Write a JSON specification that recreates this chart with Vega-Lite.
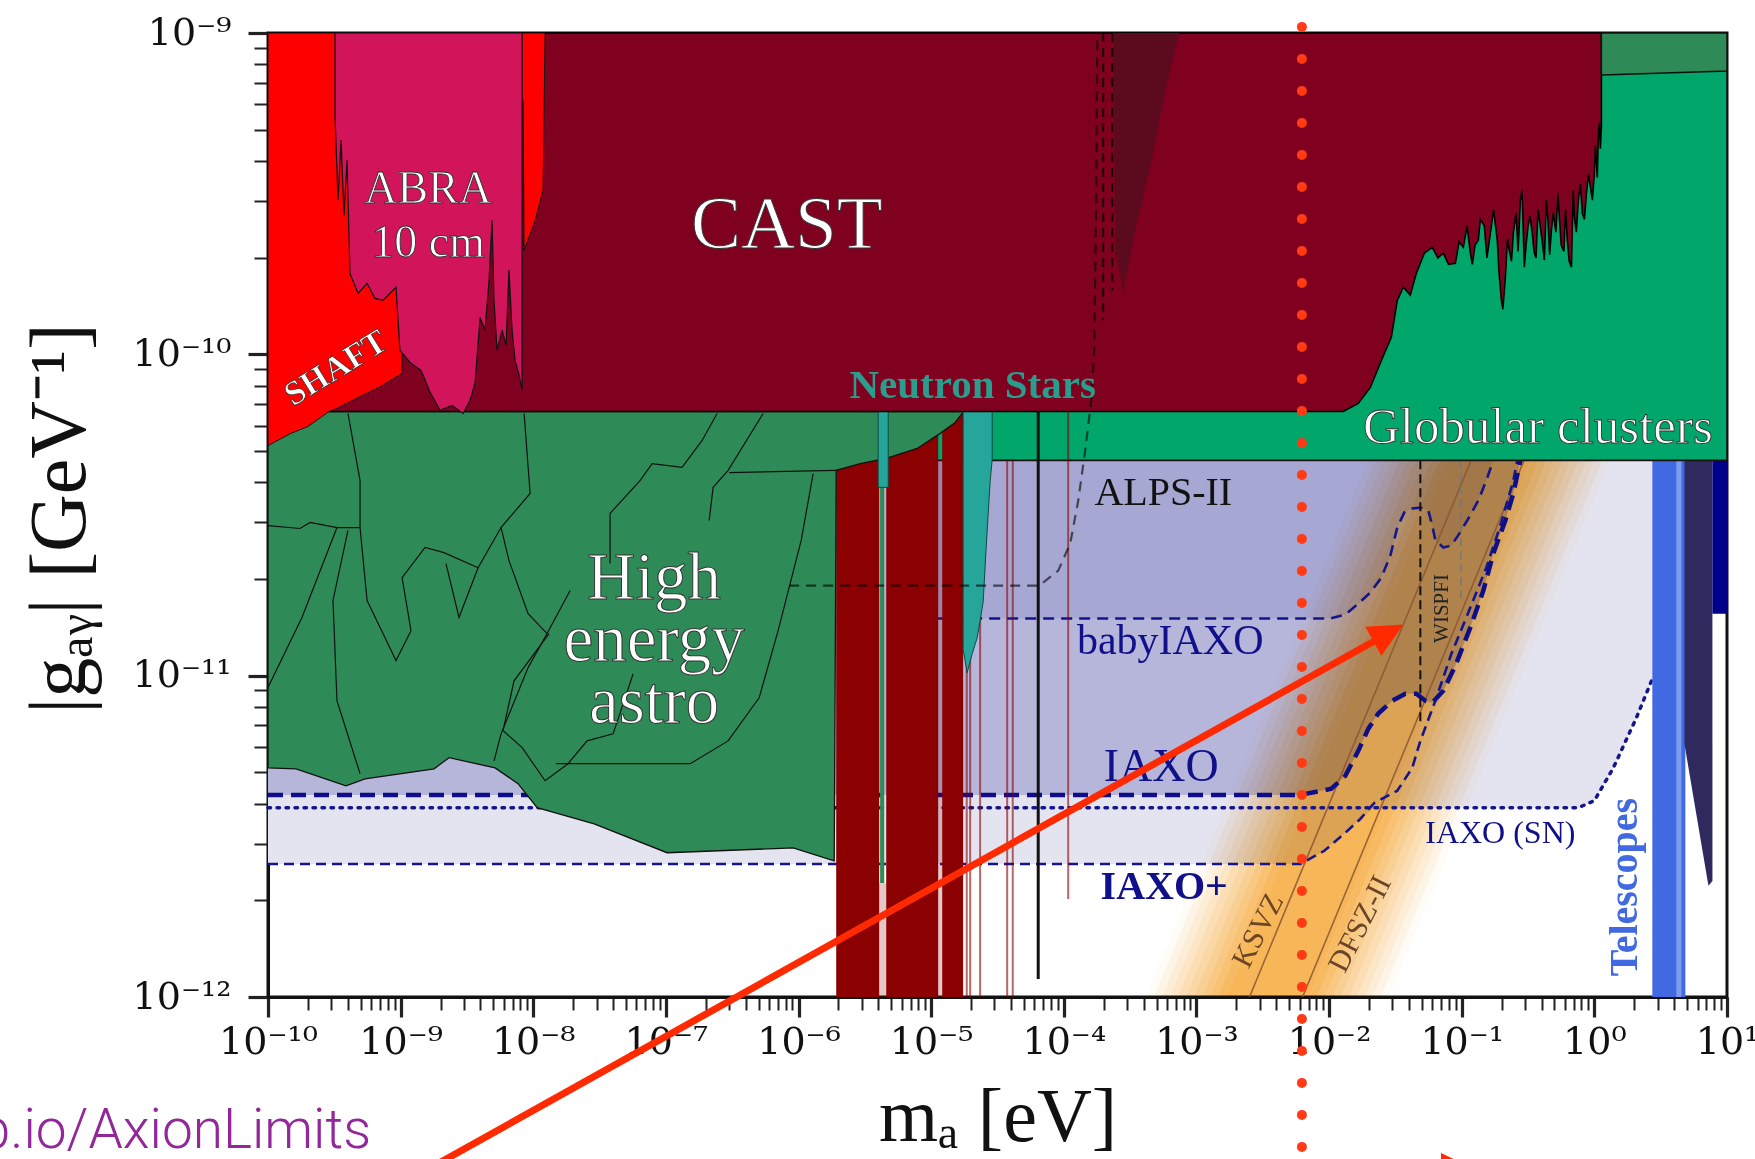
{
  "$schema": "https://vega.github.io/schema/vega-lite/v6.json",
  "width": 1459,
  "height": 964,
  "autosize": {"type": "none"},
  "padding": {"left": 268, "top": 33, "right": 28, "bottom": 162},
  "background": "white",
  "config": {
    "view": {"stroke": "#111", "strokeWidth": 3},
    "axis": {"labelFont": "DejaVu Serif", "titleFont": "Liberation Serif"},
    "text": {"font": "Liberation Serif"}
  },
  "resolve": {"scale": {"color": "independent"}},
  "datasets": {
    "iaxo_plus_region": [
      {"m": -10, "g": -11.586, "g2": -9}, {"m": -2.217, "g": -11.586, "g2": -9},
      {"m": -2.036, "g": -11.545, "g2": -9}, {"m": -1.878, "g": -11.489, "g2": -9},
      {"m": -1.765, "g": -11.446, "g2": -9}, {"m": -1.659, "g": -11.411, "g2": -9},
      {"m": -0.121, "g": -11.411, "g2": -9}, {"m": 0.0, "g": -11.389, "g2": -9},
      {"m": 0.143, "g": -11.287, "g2": -9}, {"m": 0.317, "g": -11.131, "g2": -9},
      {"m": 0.437, "g": -11.01, "g2": -9}
    ],
    "iaxo_sn": [
      {"m": -10, "g": -11.411}, {"m": -0.121, "g": -11.411}, {"m": 0.0, "g": -11.389},
      {"m": 0.143, "g": -11.287}, {"m": 0.317, "g": -11.131}, {"m": 0.437, "g": -11.01}
    ],
    "iaxo_plus": [
      {"m": -10, "g": -11.586}, {"m": -2.217, "g": -11.586}, {"m": -2.036, "g": -11.545},
      {"m": -1.878, "g": -11.489}, {"m": -1.765, "g": -11.446}, {"m": -1.659, "g": -11.396},
      {"m": -1.486, "g": -11.358}, {"m": -1.373, "g": -11.287}, {"m": -1.312, "g": -11.203},
      {"m": -1.199, "g": -11.078}, {"m": -1.078, "g": -10.932}, {"m": -0.935, "g": -10.788},
      {"m": -0.815, "g": -10.664}, {"m": -0.709, "g": -10.533}, {"m": -0.611, "g": -10.393},
      {"m": -0.581, "g": -10.33}
    ],
    "iaxo": [
      {"m": -10, "g": -11.371, "g2": -9}, {"m": -2.217, "g": -11.371, "g2": -9},
      {"m": -1.983, "g": -11.352, "g2": -9}, {"m": -1.878, "g": -11.312, "g2": -9},
      {"m": -1.78, "g": -11.234, "g2": -9}, {"m": -1.704, "g": -11.165, "g2": -9},
      {"m": -1.629, "g": -11.118, "g2": -9}, {"m": -1.523, "g": -11.078, "g2": -9},
      {"m": -1.425, "g": -11.056, "g2": -9}, {"m": -1.342, "g": -11.056, "g2": -9},
      {"m": -1.275, "g": -11.078, "g2": -9}, {"m": -1.222, "g": -11.084, "g2": -9},
      {"m": -1.139, "g": -11.047, "g2": -9}, {"m": -1.048, "g": -10.969, "g2": -9},
      {"m": -0.935, "g": -10.85, "g2": -9}, {"m": -0.837, "g": -10.735, "g2": -9},
      {"m": -0.762, "g": -10.62, "g2": -9}, {"m": -0.671, "g": -10.517, "g2": -9},
      {"m": -0.611, "g": -10.433, "g2": -9}, {"m": -0.558, "g": -10.33, "g2": -9}
    ],
    "babyiaxo": [
      {"m": -4.97, "g": -10.822, "g2": -9}, {"m": -1.991, "g": -10.822, "g2": -9},
      {"m": -1.878, "g": -10.81, "g2": -9}, {"m": -1.78, "g": -10.776, "g2": -9},
      {"m": -1.689, "g": -10.741, "g2": -9}, {"m": -1.606, "g": -10.695, "g2": -9},
      {"m": -1.538, "g": -10.626, "g2": -9}, {"m": -1.486, "g": -10.539, "g2": -9},
      {"m": -1.433, "g": -10.492, "g2": -9}, {"m": -1.373, "g": -10.48, "g2": -9},
      {"m": -1.312, "g": -10.477, "g2": -9}, {"m": -1.252, "g": -10.486, "g2": -9},
      {"m": -1.222, "g": -10.533, "g2": -9}, {"m": -1.199, "g": -10.579, "g2": -9},
      {"m": -1.139, "g": -10.601, "g2": -9}, {"m": -1.078, "g": -10.595, "g2": -9},
      {"m": -1.018, "g": -10.558, "g2": -9}, {"m": -0.95, "g": -10.511, "g2": -9},
      {"m": -0.875, "g": -10.455, "g2": -9}, {"m": -0.815, "g": -10.393, "g2": -9},
      {"m": -0.762, "g": -10.33, "g2": -9}
    ],
    "qcd_band": [
      {"s": "s01", "m": -3.38, "g": -12, "g2": -12}, {"s": "s01", "m": -3.32, "g": -12, "g2": -11.94}, {"s": "s01", "m": -1.71, "g": -10.39, "g2": -10.33}, {"s": "s01", "m": -1.65, "g": -10.33, "g2": -10.33},
      {"s": "s02", "m": -3.32, "g": -12, "g2": -12}, {"s": "s02", "m": -3.26, "g": -12, "g2": -11.94}, {"s": "s02", "m": -1.65, "g": -10.39, "g2": -10.33}, {"s": "s02", "m": -1.59, "g": -10.33, "g2": -10.33},
      {"s": "s03", "m": -3.26, "g": -12, "g2": -12}, {"s": "s03", "m": -3.2, "g": -12, "g2": -11.94}, {"s": "s03", "m": -1.59, "g": -10.39, "g2": -10.33}, {"s": "s03", "m": -1.53, "g": -10.33, "g2": -10.33},
      {"s": "s04", "m": -3.2, "g": -12, "g2": -12}, {"s": "s04", "m": -3.14, "g": -12, "g2": -11.94}, {"s": "s04", "m": -1.53, "g": -10.39, "g2": -10.33}, {"s": "s04", "m": -1.47, "g": -10.33, "g2": -10.33},
      {"s": "s05", "m": -3.14, "g": -12, "g2": -12}, {"s": "s05", "m": -3.08, "g": -12, "g2": -11.94}, {"s": "s05", "m": -1.47, "g": -10.39, "g2": -10.33}, {"s": "s05", "m": -1.41, "g": -10.33, "g2": -10.33},
      {"s": "s06", "m": -3.08, "g": -12, "g2": -12}, {"s": "s06", "m": -3.02, "g": -12, "g2": -11.94}, {"s": "s06", "m": -1.41, "g": -10.39, "g2": -10.33}, {"s": "s06", "m": -1.35, "g": -10.33, "g2": -10.33},
      {"s": "s07", "m": -3.02, "g": -12, "g2": -12}, {"s": "s07", "m": -2.96, "g": -12, "g2": -11.94}, {"s": "s07", "m": -1.35, "g": -10.39, "g2": -10.33}, {"s": "s07", "m": -1.29, "g": -10.33, "g2": -10.33},
      {"s": "s08", "m": -2.96, "g": -12, "g2": -12}, {"s": "s08", "m": -2.9, "g": -12, "g2": -11.94}, {"s": "s08", "m": -1.29, "g": -10.39, "g2": -10.33}, {"s": "s08", "m": -1.23, "g": -10.33, "g2": -10.33},
      {"s": "s09", "m": -2.9, "g": -12, "g2": -12}, {"s": "s09", "m": -2.84, "g": -12, "g2": -11.94}, {"s": "s09", "m": -1.23, "g": -10.39, "g2": -10.33}, {"s": "s09", "m": -1.17, "g": -10.33, "g2": -10.33},
      {"s": "s10", "m": -2.84, "g": -12, "g2": -12}, {"s": "s10", "m": -2.78, "g": -12, "g2": -11.94}, {"s": "s10", "m": -1.17, "g": -10.39, "g2": -10.33}, {"s": "s10", "m": -1.11, "g": -10.33, "g2": -10.33},
      {"s": "s11", "m": -2.78, "g": -12, "g2": -12}, {"s": "s11", "m": -2.15, "g": -12, "g2": -11.37}, {"s": "s11", "m": -1.11, "g": -10.96, "g2": -10.33}, {"s": "s11", "m": -0.48, "g": -10.33, "g2": -10.33},
      {"s": "s12", "m": -2.15, "g": -12, "g2": -12}, {"s": "s12", "m": -2.09, "g": -12, "g2": -11.94}, {"s": "s12", "m": -0.48, "g": -10.39, "g2": -10.33}, {"s": "s12", "m": -0.42, "g": -10.33, "g2": -10.33},
      {"s": "s13", "m": -2.09, "g": -12, "g2": -12}, {"s": "s13", "m": -2.03, "g": -12, "g2": -11.94}, {"s": "s13", "m": -0.42, "g": -10.39, "g2": -10.33}, {"s": "s13", "m": -0.36, "g": -10.33, "g2": -10.33},
      {"s": "s14", "m": -2.03, "g": -12, "g2": -12}, {"s": "s14", "m": -1.97, "g": -12, "g2": -11.94}, {"s": "s14", "m": -0.36, "g": -10.39, "g2": -10.33}, {"s": "s14", "m": -0.3, "g": -10.33, "g2": -10.33},
      {"s": "s15", "m": -1.97, "g": -12, "g2": -12}, {"s": "s15", "m": -1.91, "g": -12, "g2": -11.94}, {"s": "s15", "m": -0.3, "g": -10.39, "g2": -10.33}, {"s": "s15", "m": -0.24, "g": -10.33, "g2": -10.33},
      {"s": "s16", "m": -1.91, "g": -12, "g2": -12}, {"s": "s16", "m": -1.85, "g": -12, "g2": -11.94}, {"s": "s16", "m": -0.24, "g": -10.39, "g2": -10.33}, {"s": "s16", "m": -0.18, "g": -10.33, "g2": -10.33},
      {"s": "s17", "m": -1.85, "g": -12, "g2": -12}, {"s": "s17", "m": -1.79, "g": -12, "g2": -11.94}, {"s": "s17", "m": -0.18, "g": -10.39, "g2": -10.33}, {"s": "s17", "m": -0.12, "g": -10.33, "g2": -10.33},
      {"s": "s18", "m": -1.79, "g": -12, "g2": -12}, {"s": "s18", "m": -1.73, "g": -12, "g2": -11.94}, {"s": "s18", "m": -0.12, "g": -10.39, "g2": -10.33}, {"s": "s18", "m": -0.06, "g": -10.33, "g2": -10.33},
      {"s": "s19", "m": -1.73, "g": -12, "g2": -12}, {"s": "s19", "m": -1.67, "g": -12, "g2": -11.94}, {"s": "s19", "m": -0.06, "g": -10.39, "g2": -10.33}, {"s": "s19", "m": 0.0, "g": -10.33, "g2": -10.33},
      {"s": "s20", "m": -1.67, "g": -12, "g2": -12}, {"s": "s20", "m": -1.61, "g": -12, "g2": -11.94}, {"s": "s20", "m": 0.0, "g": -10.39, "g2": -10.33}, {"s": "s20", "m": 0.06, "g": -10.33, "g2": -10.33},
      {"s": "s21", "m": -1.61, "g": -12, "g2": -12}, {"s": "s21", "m": -1.55, "g": -12, "g2": -11.94}, {"s": "s21", "m": 0.06, "g": -10.39, "g2": -10.33}, {"s": "s21", "m": 0.12, "g": -10.33, "g2": -10.33}
    ],
    "models": [
      {"model": "KSVZ", "m": -3.8, "g": -13.2}, {"model": "KSVZ", "m": 0.6, "g": -8.8},
      {"model": "DFSZ-II", "m": -3.8, "g": -13.6}, {"model": "DFSZ-II", "m": 0.6, "g": -9.2}
    ],
    "haloscopes": [
      {"id": "h1", "m": -5.716, "g": -12, "g2": -10.178}, {"id": "h1", "m": -5.392, "g": -12, "g2": -10.178},
      {"id": "h2", "m": -5.339, "g": -12, "g2": -10.178}, {"id": "h2", "m": -4.947, "g": -12, "g2": -10.178},
      {"id": "h3", "m": -4.917, "g": -12, "g2": -10.178}, {"id": "h3", "m": -4.759, "g": -12, "g2": -10.178}
    ],
    "haloscope_gaps": [
      {"id": "p1", "m": -5.392, "g": -12, "g2": -11.645}, {"id": "p1", "m": -5.339, "g": -12, "g2": -11.645},
      {"id": "p2", "m": -4.947, "g": -12, "g2": -10.33}, {"id": "p2", "m": -4.917, "g": -12, "g2": -10.33}
    ],
    "haloscope_lines": [
      {"m": -4.732, "g": -10.33, "g2": -12}, {"m": -4.706, "g": -10.33, "g2": -12},
      {"m": -4.631, "g": -10.33, "g2": -12}, {"m": -4.427, "g": -10.33, "g2": -12},
      {"m": -4.385, "g": -10.33, "g2": -12}, {"m": -3.967, "g": -10.178, "g2": -11.695}
    ],
    "he_astro": [
      {"m": -10, "g": -11.287, "g2": -10.178}, {"m": -9.789, "g": -11.29, "g2": -10.178},
      {"m": -9.412, "g": -11.343, "g2": -10.178}, {"m": -9.268, "g": -11.321, "g2": -10.178},
      {"m": -8.748, "g": -11.29, "g2": -10.178}, {"m": -8.635, "g": -11.255, "g2": -10.178},
      {"m": -8.288, "g": -11.287, "g2": -10.178}, {"m": -8.115, "g": -11.336, "g2": -10.178},
      {"m": -7.971, "g": -11.411, "g2": -10.178}, {"m": -7.541, "g": -11.461, "g2": -10.178},
      {"m": -6.991, "g": -11.551, "g2": -10.178}, {"m": -6.041, "g": -11.536, "g2": -10.178},
      {"m": -5.731, "g": -11.576, "g2": -10.178}, {"m": -5.716, "g": -10.361, "g2": -10.178},
      {"m": -5.535, "g": -10.34, "g2": -10.178}, {"m": -5.339, "g": -10.324, "g2": -10.178},
      {"m": -5.106, "g": -10.293, "g2": -10.178}, {"m": -4.932, "g": -10.246, "g2": -10.178},
      {"m": -4.819, "g": -10.212, "g2": -10.178}, {"m": -4.759, "g": -10.18, "g2": -10.178}
    ],
    "he_lines": [
      {"seg": "a", "k": 0, "m": -9.397, "g": -10.184}, {"seg": "a", "k": 1, "m": -9.306, "g": -10.393},
      {"seg": "a", "k": 2, "m": -9.306, "g": -10.539}, {"seg": "a", "k": 3, "m": -9.253, "g": -10.766},
      {"seg": "a", "k": 4, "m": -9.133, "g": -10.869}, {"seg": "a", "k": 5, "m": -9.035, "g": -10.953},
      {"seg": "a", "k": 6, "m": -8.922, "g": -10.86}, {"seg": "a", "k": 7, "m": -8.989, "g": -10.695},
      {"seg": "a", "k": 8, "m": -8.816, "g": -10.601}, {"seg": "a", "k": 9, "m": -8.673, "g": -10.617},
      {"seg": "a", "k": 10, "m": -8.416, "g": -10.664}, {"seg": "a", "k": 11, "m": -8.243, "g": -10.539},
      {"seg": "a", "k": 12, "m": -8.024, "g": -10.433}, {"seg": "a", "k": 13, "m": -8.069, "g": -10.184},
      {"seg": "b", "k": 0, "m": -8.658, "g": -10.651}, {"seg": "b", "k": 1, "m": -8.56, "g": -10.819},
      {"seg": "b", "k": 2, "m": -8.416, "g": -10.664},
      {"seg": "c", "k": 0, "m": -10, "g": -10.533}, {"seg": "c", "k": 1, "m": -9.759, "g": -10.542},
      {"seg": "c", "k": 2, "m": -9.683, "g": -10.523}, {"seg": "c", "k": 3, "m": -9.48, "g": -10.539},
      {"seg": "c", "k": 4, "m": -9.306, "g": -10.539},
      {"seg": "d", "k": 0, "m": -9.48, "g": -10.539}, {"seg": "d", "k": 1, "m": -9.744, "g": -10.819},
      {"seg": "d", "k": 2, "m": -10, "g": -11.037},
      {"seg": "e", "k": 0, "m": -9.397, "g": -10.548}, {"seg": "e", "k": 1, "m": -9.51, "g": -10.766},
      {"seg": "e", "k": 2, "m": -9.48, "g": -11.078}, {"seg": "e", "k": 3, "m": -9.306, "g": -11.305},
      {"seg": "f", "k": 0, "m": -8.243, "g": -10.539}, {"seg": "f", "k": 1, "m": -8.183, "g": -10.642},
      {"seg": "f", "k": 2, "m": -8.039, "g": -10.807}, {"seg": "f", "k": 3, "m": -7.896, "g": -10.869},
      {"seg": "f", "k": 4, "m": -7.722, "g": -10.735},
      {"seg": "g", "k": 0, "m": -7.896, "g": -10.869}, {"seg": "g", "k": 1, "m": -8.039, "g": -10.975},
      {"seg": "g", "k": 2, "m": -8.243, "g": -11.181}, {"seg": "g", "k": 3, "m": -8.296, "g": -11.265},
      {"seg": "h", "k": 0, "m": -6.614, "g": -10.184}, {"seg": "h", "k": 1, "m": -6.727, "g": -10.268},
      {"seg": "h", "k": 2, "m": -6.878, "g": -10.352}, {"seg": "h", "k": 3, "m": -7.104, "g": -10.34},
      {"seg": "h", "k": 4, "m": -7.195, "g": -10.393}, {"seg": "h", "k": 5, "m": -7.421, "g": -10.495},
      {"seg": "h", "k": 6, "m": -7.421, "g": -10.651},
      {"seg": "i", "k": 0, "m": -5.89, "g": -10.371}, {"seg": "i", "k": 1, "m": -5.98, "g": -10.579},
      {"seg": "i", "k": 2, "m": -6.154, "g": -10.86}, {"seg": "i", "k": 3, "m": -6.297, "g": -11.069},
      {"seg": "i", "k": 4, "m": -6.531, "g": -11.203}, {"seg": "i", "k": 5, "m": -6.817, "g": -11.274},
      {"seg": "i", "k": 6, "m": -7.828, "g": -11.274},
      {"seg": "j", "k": 0, "m": -6.267, "g": -10.184}, {"seg": "j", "k": 1, "m": -6.531, "g": -10.361},
      {"seg": "j", "k": 2, "m": -6.644, "g": -10.414}, {"seg": "j", "k": 3, "m": -6.674, "g": -10.517},
      {"seg": "k", "k": 0, "m": -6.523, "g": -10.368}, {"seg": "k", "k": 1, "m": -5.716, "g": -10.361},
      {"seg": "l", "k": 0, "m": -7.881, "g": -10.869}, {"seg": "l", "k": 1, "m": -8.145, "g": -11.016},
      {"seg": "l", "k": 2, "m": -8.228, "g": -11.171}, {"seg": "l", "k": 3, "m": -8.084, "g": -11.224},
      {"seg": "l", "k": 4, "m": -7.911, "g": -11.327}, {"seg": "l", "k": 5, "m": -7.738, "g": -11.274},
      {"seg": "l", "k": 6, "m": -7.594, "g": -11.203}, {"seg": "l", "k": 7, "m": -7.398, "g": -11.181},
      {"seg": "l", "k": 8, "m": -7.247, "g": -10.994}
    ],
    "neutron_stars": [
      {"id": "a", "m": -4.759, "g": -10.919, "g2": -10.178}, {"id": "a", "m": -4.729, "g": -10.991, "g2": -10.178},
      {"id": "a", "m": -4.691, "g": -10.932, "g2": -10.178}, {"id": "a", "m": -4.653, "g": -10.882, "g2": -10.178},
      {"id": "a", "m": -4.608, "g": -10.77, "g2": -10.178}, {"id": "a", "m": -4.585, "g": -10.598, "g2": -10.178},
      {"id": "a", "m": -4.555, "g": -10.393, "g2": -10.178}, {"id": "a", "m": -4.54, "g": -10.327, "g2": -10.178},
      {"id": "b", "m": -5.4, "g": -10.414, "g2": -10.178}, {"id": "b", "m": -5.324, "g": -10.414, "g2": -10.178}
    ],
    "cast": [
      {"m": -10, "g": -10.178, "g2": -9}, {"m": -1.893, "g": -10.178, "g2": -9},
      {"m": -1.78, "g": -10.153, "g2": -9}, {"m": -1.689, "g": -10.103, "g2": -9},
      {"m": -1.606, "g": -10.019, "g2": -9}, {"m": -1.531, "g": -9.947, "g2": -9},
      {"m": -1.486, "g": -9.832, "g2": -9}, {"m": -1.44, "g": -9.791, "g2": -9},
      {"m": -1.388, "g": -9.816, "g2": -9}, {"m": -1.342, "g": -9.748, "g2": -9},
      {"m": -1.282, "g": -9.685, "g2": -9}, {"m": -1.222, "g": -9.667, "g2": -9},
      {"m": -1.18, "g": -9.7, "g2": -9}, {"m": -1.139, "g": -9.685, "g2": -9},
      {"m": -1.1, "g": -9.72, "g2": -9}, {"m": -1.048, "g": -9.717, "g2": -9},
      {"m": -1.02, "g": -9.65, "g2": -9}, {"m": -0.988, "g": -9.667, "g2": -9},
      {"m": -0.96, "g": -9.6, "g2": -9}, {"m": -0.935, "g": -9.685, "g2": -9},
      {"m": -0.92, "g": -9.72, "g2": -9}, {"m": -0.9, "g": -9.66, "g2": -9},
      {"m": -0.875, "g": -9.645, "g2": -9}, {"m": -0.86, "g": -9.58, "g2": -9},
      {"m": -0.83, "g": -9.6, "g2": -9}, {"m": -0.81, "g": -9.7, "g2": -9},
      {"m": -0.784, "g": -9.623, "g2": -9}, {"m": -0.76, "g": -9.55, "g2": -9},
      {"m": -0.732, "g": -9.645, "g2": -9}, {"m": -0.72, "g": -9.74, "g2": -9},
      {"m": -0.701, "g": -9.832, "g2": -9}, {"m": -0.69, "g": -9.86, "g2": -9},
      {"m": -0.671, "g": -9.76, "g2": -9}, {"m": -0.655, "g": -9.64, "g2": -9},
      {"m": -0.64, "g": -9.68, "g2": -9}, {"m": -0.625, "g": -9.71, "g2": -9},
      {"m": -0.611, "g": -9.623, "g2": -9}, {"m": -0.59, "g": -9.56, "g2": -9},
      {"m": -0.575, "g": -9.68, "g2": -9}, {"m": -0.558, "g": -9.52, "g2": -9},
      {"m": -0.545, "g": -9.49, "g2": -9}, {"m": -0.528, "g": -9.729, "g2": -9},
      {"m": -0.515, "g": -9.66, "g2": -9}, {"m": -0.5, "g": -9.6, "g2": -9},
      {"m": -0.485, "g": -9.57, "g2": -9}, {"m": -0.468, "g": -9.623, "g2": -9},
      {"m": -0.455, "g": -9.68, "g2": -9}, {"m": -0.44, "g": -9.7, "g2": -9},
      {"m": -0.425, "g": -9.55, "g2": -9}, {"m": -0.407, "g": -9.604, "g2": -9},
      {"m": -0.39, "g": -9.66, "g2": -9}, {"m": -0.377, "g": -9.707, "g2": -9},
      {"m": -0.362, "g": -9.52, "g2": -9}, {"m": -0.35, "g": -9.58, "g2": -9},
      {"m": -0.337, "g": -9.69, "g2": -9}, {"m": -0.324, "g": -9.614, "g2": -9},
      {"m": -0.31, "g": -9.56, "g2": -9}, {"m": -0.29, "g": -9.62, "g2": -9},
      {"m": -0.275, "g": -9.5, "g2": -9}, {"m": -0.264, "g": -9.573, "g2": -9},
      {"m": -0.25, "g": -9.66, "g2": -9}, {"m": -0.23, "g": -9.68, "g2": -9},
      {"m": -0.217, "g": -9.55, "g2": -9}, {"m": -0.204, "g": -9.645, "g2": -9},
      {"m": -0.19, "g": -9.71, "g2": -9}, {"m": -0.173, "g": -9.729, "g2": -9},
      {"m": -0.16, "g": -9.49, "g2": -9}, {"m": -0.151, "g": -9.573, "g2": -9},
      {"m": -0.136, "g": -9.62, "g2": -9}, {"m": -0.121, "g": -9.52, "g2": -9},
      {"m": -0.105, "g": -9.47, "g2": -9}, {"m": -0.091, "g": -9.561, "g2": -9},
      {"m": -0.075, "g": -9.58, "g2": -9}, {"m": -0.06, "g": -9.5, "g2": -9},
      {"m": -0.045, "g": -9.44, "g2": -9}, {"m": -0.03, "g": -9.48, "g2": -9},
      {"m": -0.015, "g": -9.52, "g2": -9}, {"m": 0.0, "g": -9.436, "g2": -9},
      {"m": 0.008, "g": -9.35, "g2": -9}, {"m": 0.015, "g": -9.4, "g2": -9},
      {"m": 0.022, "g": -9.45, "g2": -9}, {"m": 0.03, "g": -9.312, "g2": -9},
      {"m": 0.038, "g": -9.28, "g2": -9}, {"m": 0.045, "g": -9.36, "g2": -9},
      {"m": 0.053, "g": -9.293, "g2": -9}
    ],
    "cast_shadow": [
      {"m": -3.627, "g": -9.0, "g2": -9}, {"m": -3.612, "g": -9.676, "g2": -9},
      {"m": -3.552, "g": -9.81, "g2": -9}, {"m": -3.462, "g": -9.614, "g2": -9},
      {"m": -3.348, "g": -9.417, "g2": -9}, {"m": -3.235, "g": -9.178, "g2": -9},
      {"m": -3.13, "g": -9.0, "g2": -9}
    ],
    "shaft": [
      {"m": -10, "g": -10.284, "g2": -9}, {"m": -9.9, "g": -10.262, "g2": -9},
      {"m": -9.827, "g": -10.246, "g2": -9}, {"m": -9.7, "g": -10.225, "g2": -9},
      {"m": -9.54, "g": -10.178, "g2": -9}, {"m": -9.48, "g": -10.168, "g2": -9},
      {"m": -9.3, "g": -10.13, "g2": -9}, {"m": -9.15, "g": -10.1, "g2": -9},
      {"m": -8.989, "g": -10.059, "g2": -9}, {"m": -8.982, "g": -9.209, "g2": -9},
      {"m": -8.077, "g": -9.209, "g2": -9}, {"m": -8.069, "g": -9.676, "g2": -9},
      {"m": -7.986, "g": -9.583, "g2": -9}, {"m": -7.926, "g": -9.489, "g2": -9},
      {"m": -7.911, "g": -9.0, "g2": -9}
    ],
    "abra": [
      {"m": -9.495, "g": -9.255, "g2": -9}, {"m": -9.472, "g": -9.52, "g2": -9},
      {"m": -9.449, "g": -9.333, "g2": -9}, {"m": -9.427, "g": -9.567, "g2": -9},
      {"m": -9.404, "g": -9.396, "g2": -9}, {"m": -9.382, "g": -9.748, "g2": -9},
      {"m": -9.321, "g": -9.81, "g2": -9}, {"m": -9.253, "g": -9.779, "g2": -9},
      {"m": -9.193, "g": -9.826, "g2": -9}, {"m": -9.133, "g": -9.832, "g2": -9},
      {"m": -9.08, "g": -9.81, "g2": -9}, {"m": -9.035, "g": -9.791, "g2": -9},
      {"m": -9.005, "g": -9.988, "g2": -9}, {"m": -8.929, "g": -10.025, "g2": -9},
      {"m": -8.846, "g": -10.05, "g2": -9}, {"m": -8.778, "g": -10.118, "g2": -9},
      {"m": -8.703, "g": -10.174, "g2": -9}, {"m": -8.612, "g": -10.159, "g2": -9},
      {"m": -8.529, "g": -10.184, "g2": -9}, {"m": -8.477, "g": -10.143, "g2": -9},
      {"m": -8.439, "g": -10.09, "g2": -9}, {"m": -8.401, "g": -9.885, "g2": -9},
      {"m": -8.364, "g": -9.925, "g2": -9}, {"m": -8.333, "g": -9.769, "g2": -9},
      {"m": -8.311, "g": -9.583, "g2": -9}, {"m": -8.296, "g": -9.832, "g2": -9},
      {"m": -8.273, "g": -9.988, "g2": -9}, {"m": -8.235, "g": -9.925, "g2": -9},
      {"m": -8.205, "g": -9.972, "g2": -9}, {"m": -8.183, "g": -9.738, "g2": -9},
      {"m": -8.16, "g": -9.925, "g2": -9}, {"m": -8.137, "g": -10.019, "g2": -9},
      {"m": -8.107, "g": -10.065, "g2": -9}, {"m": -8.084, "g": -10.112, "g2": -9}
    ],
    "alps": [
      {"m": -6.071, "g": -10.72}, {"m": -4.186, "g": -10.72}, {"m": -4.042, "g": -10.673},
      {"m": -3.952, "g": -10.589}, {"m": -3.891, "g": -10.455}, {"m": -3.839, "g": -10.299},
      {"m": -3.793, "g": -10.143}, {"m": -3.771, "g": -9.988}, {"m": -3.756, "g": -9.52},
      {"m": -3.748, "g": -9.0}
    ]
  },
  "encoding": {
    "x": {
      "field": "m",
      "type": "quantitative",
      "scale": {"domain": [-10, 1], "nice": false, "zero": false},
      "axis": {
        "values": [-10, -9.699, -9.523, -9.398, -9.301, -9.222, -9.155, -9.097, -9.046,
          -9, -8.699, -8.523, -8.398, -8.301, -8.222, -8.155, -8.097, -8.046,
          -8, -7.699, -7.523, -7.398, -7.301, -7.222, -7.155, -7.097, -7.046,
          -7, -6.699, -6.523, -6.398, -6.301, -6.222, -6.155, -6.097, -6.046,
          -6, -5.699, -5.523, -5.398, -5.301, -5.222, -5.155, -5.097, -5.046,
          -5, -4.699, -4.523, -4.398, -4.301, -4.222, -4.155, -4.097, -4.046,
          -4, -3.699, -3.523, -3.398, -3.301, -3.222, -3.155, -3.097, -3.046,
          -3, -2.699, -2.523, -2.398, -2.301, -2.222, -2.155, -2.097, -2.046,
          -2, -1.699, -1.523, -1.398, -1.301, -1.222, -1.155, -1.097, -1.046,
          -1, -0.699, -0.523, -0.398, -0.301, -0.222, -0.155, -0.097, -0.046,
          0, 0.301, 0.477, 0.602, 0.699, 0.778, 0.845, 0.903, 0.954, 1],
        "labelExpr": "abs(datum.value - round(datum.value)) < 0.001 ? ['10⁻¹⁰','10⁻⁹','10⁻⁸','10⁻⁷','10⁻⁶','10⁻⁵','10⁻⁴','10⁻³','10⁻²','10⁻¹','10⁰','10¹'][round(datum.value) + 10] : ''",
        "labelFontSize": 38,
        "labelColor": "#111",
        "labelPadding": 6,
        "labelFlush": false,
        "labelOverlap": false,
        "labelBound": false,
        "tickSize": {"condition": {"test": "abs(datum.value - round(datum.value)) < 0.001", "value": 20}, "value": 13},
        "tickWidth": {"condition": {"test": "abs(datum.value - round(datum.value)) < 0.001", "value": 3.2}, "value": 2},
        "tickColor": "#222",
        "domainColor": "#111",
        "domainWidth": 3,
        "grid": false,
        "title": "mₐ [eV]",
        "titleFontSize": 76,
        "titleFontWeight": "normal",
        "titleColor": "#111",
        "titleY": 143,
        "titleBaseline": "alphabetic"
      }
    },
    "y": {
      "field": "g",
      "type": "quantitative",
      "scale": {"domain": [-12, -9], "nice": false, "zero": false},
      "axis": {
        "values": [-12, -11.699, -11.523, -11.398, -11.301, -11.222, -11.155, -11.097, -11.046,
          -11, -10.699, -10.523, -10.398, -10.301, -10.222, -10.155, -10.097, -10.046,
          -10, -9.699, -9.523, -9.398, -9.301, -9.222, -9.155, -9.097, -9.046, -9],
        "labelExpr": "abs(datum.value - round(datum.value)) < 0.001 ? ['10⁻¹²','10⁻¹¹','10⁻¹⁰','10⁻⁹'][round(datum.value) + 12] : ''",
        "labelFontSize": 38,
        "labelColor": "#111",
        "labelPadding": 17,
        "labelOverlap": false,
        "labelBound": false,
        "labelFlush": false,
        "tickSize": {"condition": {"test": "abs(datum.value - round(datum.value)) < 0.001", "value": 20}, "value": 14},
        "tickWidth": {"condition": {"test": "abs(datum.value - round(datum.value)) < 0.001", "value": 3.2}, "value": 2},
        "tickColor": "#222",
        "domainColor": "#111",
        "domainWidth": 3,
        "grid": false,
        "title": "|gₐᵧ| [GeV⁻¹]",
        "titleFontSize": 80,
        "titleFontWeight": "normal",
        "titleColor": "#111",
        "titleAngle": 270,
        "titleX": -184,
        "titleY": 485,
        "titleAlign": "center",
        "titleBaseline": "alphabetic"
      }
    }
  },
  "layer": [
    {
      "data": {"name": "iaxo_plus_region"},
      "mark": {"type": "area", "color": "#E4E4F0"},
      "encoding": {"y2": {"field": "g2"}}
    },
    {
      "data": {"name": "iaxo"},
      "mark": {"type": "area", "color": "#B6B6DB"},
      "encoding": {"y2": {"field": "g2"}}
    },
    {
      "data": {"name": "babyiaxo"},
      "mark": {"type": "area", "color": "#A7A7D3"},
      "encoding": {"y2": {"field": "g2"}}
    },
    {
      "data": {"name": "qcd_band"},
      "mark": {"type": "area", "blend": "multiply", "opacity": 1},
      "encoding": {
        "y2": {"field": "g2"},
        "detail": {"field": "s", "type": "nominal"},
        "color": {
          "field": "s", "type": "nominal", "legend": null,
          "scale": {"domain": ["s01", "s02", "s03", "s04", "s05", "s06", "s07", "s08", "s09", "s10", "s11", "s12", "s13", "s14", "s15", "s16", "s17", "s18", "s19", "s20", "s21"],
                    "range": ["#FFFBF7", "#FEF4E6", "#FDEDD6", "#FCE6C5", "#FBDEB4", "#FAD7A4", "#F9D093", "#F9C983", "#F8C272", "#F7BA61", "#F7B759", "#F7BA61", "#F8C272", "#F9C983", "#F9D093", "#FAD7A4", "#FBDEB4", "#FCE6C5", "#FDEDD6", "#FEF4E6", "#FFFBF7"]}
        }
      }
    },
    {
      "data": {"name": "models"},
      "mark": {"type": "line", "color": "#8A5634", "strokeWidth": 1.6, "opacity": 0.85, "clip": true},
      "encoding": {"detail": {"field": "model", "type": "nominal"}}
    },
    {
      "data": {"name": "iaxo_sn"},
      "mark": {"type": "line", "color": "#16168C", "strokeWidth": 3.5, "strokeDash": [2.5, 6.5], "strokeCap": "round"},
      "encoding": {}
    },
    {
      "data": {"name": "iaxo_plus"},
      "mark": {"type": "line", "color": "#16168C", "strokeWidth": 2.6, "strokeDash": [10, 6]},
      "encoding": {}
    },
    {
      "data": {"name": "iaxo"},
      "mark": {"type": "line", "color": "#0E0E88", "strokeWidth": 4.5, "strokeDash": [15, 8]},
      "encoding": {}
    },
    {
      "data": {"name": "babyiaxo"},
      "mark": {"type": "line", "color": "#16168C", "strokeWidth": 2.6, "strokeDash": [11, 7]},
      "encoding": {}
    },
    {
      "data": {"values": [{"m": -1.312, "g": -10.33, "g2": -11.15}]},
      "mark": {"type": "rule", "color": "#111", "strokeWidth": 2, "strokeDash": [9, 5]},
      "encoding": {"y2": {"field": "g2"}}
    },
    {
      "data": {"values": [{"m": -1.006, "g": -10.33, "g2": -10.766}]},
      "mark": {"type": "rule", "color": "#777", "strokeWidth": 1.5, "strokeDash": [8, 5]},
      "encoding": {"y2": {"field": "g2"}}
    },
    {
      "data": {"values": [
        {"m": 0.437, "g": -12, "g2": -10.33}, {"m": 0.686, "g": -12, "g2": -10.33}
      ]},
      "mark": {"type": "area", "color": "#4169E1"},
      "encoding": {"y2": {"field": "g2"}}
    },
    {
      "data": {"values": [
        {"part": "stripe", "m": 0.618, "g": -12, "g2": -10.33}, {"part": "stripe", "m": 0.656, "g": -12, "g2": -10.33},
        {"part": "wedge", "m": 0.679, "g": -11.212, "g2": -10.33}, {"part": "wedge", "m": 0.86, "g": -11.654, "g2": -10.33},
        {"part": "wedge", "m": 0.89, "g": -11.639, "g2": -10.33},
        {"part": "cap", "m": 0.89, "g": -10.807, "g2": -10.33}, {"part": "cap", "m": 1.0, "g": -10.807, "g2": -10.33}
      ]},
      "mark": {"type": "area"},
      "encoding": {
        "y2": {"field": "g2"},
        "detail": {"field": "part", "type": "nominal"},
        "color": {"field": "part", "type": "nominal", "legend": null,
                  "scale": {"domain": ["stripe", "wedge", "cap"], "range": ["#7D9BEF", "#2E2A5E", "#00008B"]}}
      }
    },
    {
      "data": {"values": [{"m": -5.385, "g": -10.33, "g2": -9}, {"m": 1, "g": -10.33, "g2": -9}]},
      "mark": {"type": "area", "color": "#00A66A", "stroke": "#111", "strokeWidth": 1.6},
      "encoding": {"y2": {"field": "g2"}}
    },
    {
      "data": {"name": "haloscopes"},
      "mark": {"type": "area", "color": "#8B0000"},
      "encoding": {"y2": {"field": "g2"}, "detail": {"field": "id", "type": "nominal"}}
    },
    {
      "data": {"name": "haloscope_gaps"},
      "mark": {"type": "area", "color": "#8B0000", "opacity": 0.22},
      "encoding": {"y2": {"field": "g2"}, "detail": {"field": "id", "type": "nominal"}}
    },
    {
      "data": {"name": "haloscope_lines"},
      "mark": {"type": "rule", "color": "#8B0000", "strokeWidth": 2, "opacity": 0.6},
      "encoding": {"y2": {"field": "g2"}}
    },
    {
      "data": {"values": [{"m": -4.193, "g": -10.178, "g2": -11.944}]},
      "mark": {"type": "rule", "color": "#111", "strokeWidth": 3},
      "encoding": {"y2": {"field": "g2"}}
    },
    {
      "data": {"name": "he_astro"},
      "mark": {"type": "area", "color": "#2E8B57", "stroke": "#111", "strokeWidth": 1.3},
      "encoding": {"y2": {"field": "g2"}}
    },
    {
      "data": {"values": [{"m": -5.385, "g": -11.645, "g2": -10.414}, {"m": -5.354, "g": -11.645, "g2": -10.414}]},
      "mark": {"type": "area", "color": "#2E8B57"},
      "encoding": {"y2": {"field": "g2"}}
    },
    {
      "data": {"name": "neutron_stars"},
      "mark": {"type": "area", "color": "#26A69A", "stroke": "#0D4A44", "strokeWidth": 1},
      "encoding": {"y2": {"field": "g2"}, "detail": {"field": "id", "type": "nominal"}}
    },
    {
      "data": {"name": "cast"},
      "mark": {"type": "area", "color": "#800020", "stroke": "#000", "strokeWidth": 1.6},
      "encoding": {"y2": {"field": "g2"}}
    },
    {
      "data": {"name": "cast_shadow"},
      "mark": {"type": "area", "color": "#5C0A1E"},
      "encoding": {"y2": {"field": "g2"}}
    },
    {
      "data": {"values": [{"m": -3.703, "g": -9, "g2": -9.894}, {"m": -3.635, "g": -9, "g2": -9.801}]},
      "mark": {"type": "rule", "color": "#1A0006", "strokeWidth": 2, "strokeDash": [9, 6]},
      "encoding": {"y2": {"field": "g2"}}
    },
    {
      "data": {"name": "shaft"},
      "mark": {"type": "area", "color": "#FF0000", "stroke": "#111", "strokeWidth": 1},
      "encoding": {"y2": {"field": "g2"}}
    },
    {
      "data": {"name": "abra"},
      "mark": {"type": "area", "color": "#D2145A", "stroke": "#111", "strokeWidth": 1.2},
      "encoding": {"y2": {"field": "g2"}}
    },
    {
      "data": {"values": [{"m": 0.053, "g": -9.131, "g2": -9}, {"m": 1, "g": -9.118, "g2": -9}]},
      "mark": {"type": "area", "color": "#2E8B57", "stroke": "#111", "strokeWidth": 1.5},
      "encoding": {"y2": {"field": "g2"}}
    },
    {
      "data": {"name": "he_lines"},
      "mark": {"type": "line", "color": "#111", "strokeWidth": 1.2},
      "encoding": {"detail": {"field": "seg", "type": "nominal"}, "order": {"field": "k", "type": "quantitative"}}
    },
    {
      "data": {"name": "alps"},
      "mark": {"type": "line", "color": "#000", "opacity": 0.6, "strokeWidth": 2.2, "strokeDash": [10, 7]},
      "encoding": {}
    },
    {
      "data": {"values": [{"label": "CAST", "m": -6.089, "g": -9.67}]},
      "mark": {"type": "text", "fontSize": 75, "fill": "white", "stroke": "#333", "strokeWidth": 1, "align": "center", "baseline": "alphabetic"},
      "encoding": {"text": {"field": "label", "type": "nominal"}}
    },
    {
      "data": {"values": [{"label": "ABRA", "m": -8.793, "g": -9.53}, {"label": "10 cm", "m": -8.793, "g": -9.698}]},
      "mark": {"type": "text", "fontSize": 46, "fill": "white", "stroke": "#333", "strokeWidth": 0.9, "align": "center", "baseline": "alphabetic"},
      "encoding": {"text": {"field": "label", "type": "nominal"}}
    },
    {
      "data": {"values": [
        {"label": "High", "m": -7.089, "g": -10.76},
        {"label": "energy", "m": -7.089, "g": -10.953},
        {"label": "astro", "m": -7.089, "g": -11.146}
      ]},
      "mark": {"type": "text", "fontSize": 67, "fill": "white", "stroke": "#333", "strokeWidth": 1, "align": "center", "baseline": "alphabetic"},
      "encoding": {"text": {"field": "label", "type": "nominal"}}
    },
    {
      "data": {"values": [{"label": "Globular clusters", "m": -0.426, "g": -10.277}]},
      "mark": {"type": "text", "fontSize": 51, "fill": "white", "stroke": "#333", "strokeWidth": 0.9, "align": "center", "baseline": "alphabetic"},
      "encoding": {"text": {"field": "label", "type": "nominal"}}
    },
    {
      "data": {"values": [{"label": "SHAFT", "m": -9.487, "g": -10.044}]},
      "mark": {"type": "text", "fontSize": 34, "fontWeight": "bold", "fill": "white", "stroke": "#333", "strokeWidth": 0.8, "align": "center", "baseline": "middle", "angle": -31.6},
      "encoding": {"text": {"field": "label", "type": "nominal"}}
    },
    {
      "data": {"values": [{"label": "Neutron Stars", "m": -4.687, "g": -10.137}]},
      "mark": {"type": "text", "fontSize": 41, "fontWeight": "bold", "fill": "#2A9D8C", "align": "center", "baseline": "alphabetic"},
      "encoding": {"text": {"field": "label", "type": "nominal"}}
    },
    {
      "data": {"values": [{"label": "ALPS-II", "m": -3.25, "g": -10.47}]},
      "mark": {"type": "text", "fontSize": 40, "fill": "#111", "align": "center", "baseline": "alphabetic"},
      "encoding": {"text": {"field": "label", "type": "nominal"}}
    },
    {
      "data": {"values": [{"label": "babyIAXO", "m": -3.198, "g": -10.932}]},
      "mark": {"type": "text", "fontSize": 42, "fill": "#10108A", "align": "center", "baseline": "alphabetic"},
      "encoding": {"text": {"field": "label", "type": "nominal"}}
    },
    {
      "data": {"values": [{"label": "IAXO", "m": -3.266, "g": -11.327}]},
      "mark": {"type": "text", "fontSize": 46, "fill": "#10108A", "align": "center", "baseline": "alphabetic"},
      "encoding": {"text": {"field": "label", "type": "nominal"}}
    },
    {
      "data": {"values": [{"label": "IAXO+", "m": -3.243, "g": -11.695}]},
      "mark": {"type": "text", "fontSize": 40, "fontWeight": "bold", "fill": "#10108A", "align": "center", "baseline": "alphabetic"},
      "encoding": {"text": {"field": "label", "type": "nominal"}}
    },
    {
      "data": {"values": [{"label": "IAXO (SN)", "m": -0.709, "g": -11.52}]},
      "mark": {"type": "text", "fontSize": 32, "fill": "#10108A", "align": "center", "baseline": "alphabetic"},
      "encoding": {"text": {"field": "label", "type": "nominal"}}
    },
    {
      "data": {"values": [{"label": "Telescopes", "m": 0.234, "g": -11.658}]},
      "mark": {"type": "text", "fontSize": 40, "fontWeight": "bold", "fill": "#4169E1", "align": "center", "baseline": "middle", "angle": -90},
      "encoding": {"text": {"field": "label", "type": "nominal"}}
    },
    {
      "data": {"values": [{"label": "KSVZ", "m": -2.534, "g": -11.794}, {"label": "DFSZ-II", "m": -1.765, "g": -11.773}]},
      "mark": {"type": "text", "fontSize": 30, "fill": "#6B4526", "align": "center", "baseline": "middle", "angle": -63},
      "encoding": {"text": {"field": "label", "type": "nominal"}}
    },
    {
      "data": {"values": [{"label": "WISPFI", "m": -1.146, "g": -10.791}]},
      "mark": {"type": "text", "fontSize": 21, "fill": "#222", "align": "center", "baseline": "middle", "angle": -90},
      "encoding": {"text": {"field": "label", "type": "nominal"}}
    },
    {
      "data": {"values": [{"m": -2.205, "g": -8.981, "g2": -12.6}]},
      "mark": {"type": "rule", "color": "#FF3A14", "strokeWidth": 10, "strokeDash": [0.1, 31.9], "strokeCap": "round"},
      "encoding": {"y2": {"field": "g2"}}
    },
    {
      "data": {"values": [{"m": -9.072, "g": -12.6}, {"m": -1.614, "g": -10.882}]},
      "mark": {"type": "line", "color": "#FF2A00", "strokeWidth": 7, "strokeCap": "butt"},
      "encoding": {}
    },
    {
      "data": {"values": [{"m": -1.553, "g": -10.867}]},
      "mark": {"type": "point", "shape": "M0,-1L0.96,1L-0.96,1Z", "filled": true, "color": "#FF2A00", "opacity": 1, "size": 1190, "angle": 60.85, "strokeWidth": 0},
      "encoding": {}
    },
    {
      "data": {"values": [{"m": -1.026, "g": -12.537}]},
      "mark": {"type": "point", "shape": "M0,-1L0.96,1L-0.96,1Z", "filled": true, "color": "#FF2A00", "opacity": 1, "size": 1190, "angle": 90, "strokeWidth": 0},
      "encoding": {}
    },
    {
      "data": {"values": [{"label": "github.io/AxionLimits", "m": -9.223, "g": -12.47}]},
      "mark": {"type": "text", "font": "Roboto", "fontWeight": 300, "fontSize": 55, "fill": "#92279A", "align": "right", "baseline": "alphabetic"},
      "encoding": {"text": {"field": "label", "type": "nominal"}}
    }
  ]
}
